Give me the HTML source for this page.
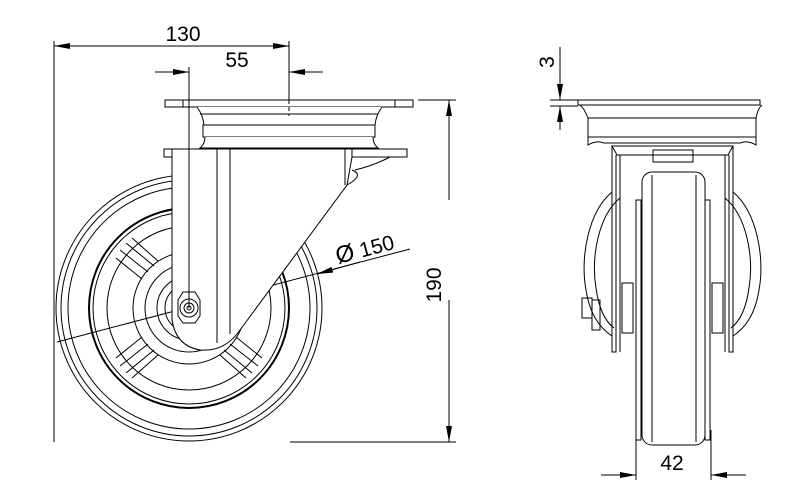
<!DOCTYPE html>
<html><head><style>
html,body{margin:0;padding:0;background:#fff;}
svg{display:block;}
text{font-family:"Liberation Sans","DejaVu Sans",sans-serif;font-size:21px;fill:#000;}
</style></head><body>
<svg width="797" height="489" viewBox="0 0 797 489" xmlns="http://www.w3.org/2000/svg">
<defs>
<marker id="a" markerWidth="16" markerHeight="6" refX="16" refY="3" orient="auto" markerUnits="userSpaceOnUse"><path d="M0,0 L16,3 L0,6 Z" fill="#000"/></marker>
</defs>
<g fill="none" stroke="#000" stroke-width="1">
<!-- dimension 130 -->
<line x1="54" y1="41" x2="54" y2="442"/>
<line x1="289" y1="41" x2="289" y2="112"/>
<line x1="70" y1="46" x2="54" y2="46" marker-end="url(#a)"/>
<line x1="70" y1="46" x2="289" y2="46" marker-end="url(#a)"/>
<!-- 55 -->
<line x1="189" y1="67" x2="189" y2="308"/>
<line x1="155" y1="72" x2="189" y2="72" marker-end="url(#a)"/>
<line x1="323" y1="72" x2="289" y2="72" marker-end="url(#a)"/>
<!-- 190 -->
<line x1="418" y1="100" x2="456" y2="100"/>
<line x1="290" y1="442" x2="456" y2="442"/>
<line x1="449" y1="200" x2="449" y2="100" marker-end="url(#a)"/>
<line x1="449" y1="300" x2="449" y2="442" marker-end="url(#a)"/>
<!-- 150 leader -->
<line x1="57" y1="342" x2="410" y2="249"/>
<line x1="360" y1="262" x2="317" y2="274" marker-end="url(#a)"/>
<!-- wheel circles -->
<circle cx="189" cy="308" r="133"/>
<circle cx="189" cy="308" r="128"/>
<circle cx="189" cy="308" r="121"/>
<circle cx="189" cy="308" r="100" stroke-width="2"/>
<circle cx="189" cy="308" r="96"/>
<circle cx="189" cy="308" r="82"/>
<circle cx="189" cy="308" r="56"/>
<circle cx="189" cy="308" r="44"/>
<circle cx="189" cy="308" r="32"/>
<circle cx="189" cy="308" r="24"/>
<!-- spokes -->
<g stroke-width="1">
<path d="M120,250 L148,272 M126,243 L154,266 M132,238 L158,261 M116,258 L142,279"/>
<path d="M120,366 L148,344 M126,373 L154,350 M132,378 L158,355 M116,358 L142,337"/>
<path d="M258,366 L230,344 M252,373 L224,350 M246,378 L220,355 M262,358 L236,337"/>
</g>
<!-- top plate -->
<rect x="165" y="100" width="248" height="7" fill="#fff"/>
<line x1="183" y1="100" x2="183" y2="107"/><line x1="395" y1="100" x2="395" y2="107"/>
<path d="M197,107 Q203,115 204,125 L375,125 Q376,115 382,107" fill="#fff"/>
<line x1="200" y1="114" x2="378" y2="114"/>
<rect x="203" y="125" width="172" height="12" fill="#fff"/>
<path d="M205,137 Q205,144 200,148 L378,148 Q373,144 373,137" fill="#fff"/>
<!-- lower plate -->
<rect x="164" y="149" width="243" height="8" fill="#fff"/>
<!-- fork -->
<path d="M172,149 L172,320 Q176,346 200,350 Q225,352 240,330 L347,185 L352,157 L352,149 Z" fill="#fff"/>
<line x1="217" y1="149" x2="217" y2="343"/>
<line x1="230" y1="149" x2="230" y2="334"/>
<line x1="345" y1="149" x2="345" y2="185"/>
<path d="M352,170 Q365,175 347,185"/>
<path d="M355,170 Q375,165 390,157"/>
<!-- hex -->
<polygon points="178,300 183,292 195,292 200,300 200,316 195,323 183,323 178,316" fill="#fff"/>
<circle cx="189" cy="308" r="9"/>
<circle cx="189" cy="308" r="5"/>
<circle cx="189" cy="308" r="2"/>
<line x1="189" y1="100" x2="189" y2="308"/>
<line x1="289" y1="100" x2="289" y2="116" stroke-dasharray="4,3"/>

<!-- side view -->
<line x1="550" y1="100" x2="578" y2="100"/>
<line x1="550" y1="106" x2="578" y2="106"/>
<line x1="560" y1="47" x2="560" y2="100" marker-end="url(#a)"/>
<line x1="560" y1="130" x2="560" y2="106" marker-end="url(#a)"/>
<rect x="578" y="100" width="182" height="5" fill="#fff"/>
<path d="M580,105 Q584,108 588,118 L756,118 Q758,108 762,105"/>
<rect x="588" y="118" width="168" height="19"/>
<path d="M588,137 L588,145 Q596,140 604,143 L740,143 Q748,140 756,145 L756,137"/>
<path d="M612,146 L733,146 L728,155 L617,155 Z"/>
<rect x="653" y="150" width="40" height="12"/>
<!-- fork legs -->
<path d="M612,146 L612,352 L616,352 L616,155"/>
<path d="M620,155 L620,352"/>
<path d="M733,146 L733,352 L729,352 L729,155"/>
<path d="M725,155 L725,352"/>
<!-- side arcs -->
<path d="M612,192 C588,212 580,258 586,290 C590,315 600,328 612,336"/>
<path d="M620,198 C598,216 591,258 596,288 C599,310 606,322 614,328"/>
<path d="M733,192 C757,212 765,258 759,290 C755,315 745,328 733,336"/>
<path d="M725,198 C747,216 754,258 749,288 C746,310 739,322 731,328"/>
<rect x="582" y="298" width="10" height="20"/>
<rect x="592" y="300" width="8" height="30"/>
<rect x="622" y="283" width="11" height="50" fill="#fff"/>
<rect x="712" y="283" width="11" height="50" fill="#fff"/>
<!-- tire -->
<rect x="636" y="200" width="5" height="240"/>
<rect x="705" y="200" width="5" height="240"/>
<rect x="642" y="172" width="63" height="273" rx="10" fill="#fff"/>
<line x1="652" y1="175" x2="652" y2="442"/>
<line x1="696" y1="175" x2="696" y2="442"/>
<!-- 42 -->
<line x1="636" y1="430" x2="636" y2="480"/>
<line x1="711" y1="430" x2="711" y2="480"/>
<line x1="601" y1="475" x2="636" y2="475" marker-end="url(#a)"/>
<line x1="746" y1="475" x2="711" y2="475" marker-end="url(#a)"/>
</g>
<text x="183" y="41" text-anchor="middle">130</text>
<text x="237" y="67" text-anchor="middle">55</text>
<text x="672" y="470" text-anchor="middle">42</text>
<text transform="translate(441,285) rotate(-90)" text-anchor="middle">190</text>
<text transform="translate(554,62) rotate(-90)" text-anchor="middle">3</text>
<text transform="translate(338,264) rotate(-15)"><tspan font-size="24">Ø</tspan> 150</text>
</svg>
</body></html>
